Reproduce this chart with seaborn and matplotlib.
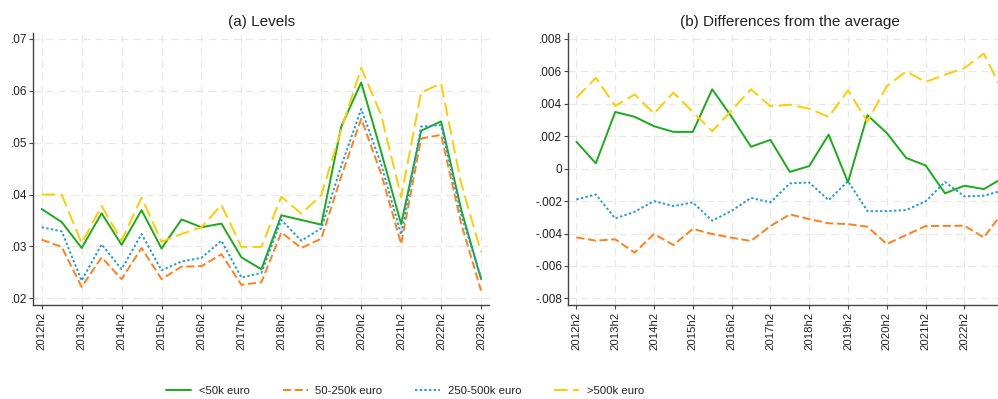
import numpy as np
import pandas as pd
import matplotlib
matplotlib.use("Agg")
import matplotlib.pyplot as plt
from matplotlib.ticker import FuncFormatter
import seaborn as sns

# Half-year periods, 2012h2 .. 2023h2
periods = [f"{y}h{h}" for y in range(2012, 2024) for h in (1, 2)][1:]

groups = ["<50k euro", "50-250k euro", "250-500k euro", ">500k euro"]

# (a) Levels
lvl_lt50 = [0.0372, 0.0347, 0.0297, 0.0364, 0.0303, 0.0370, 0.0296, 0.0352, 0.0337, 0.0344,
            0.0279, 0.0256, 0.0360, 0.0351, 0.0342, 0.0531, 0.0616, 0.0482, 0.0343, 0.0523,
            0.0541, 0.0372, 0.0237]
lvl_50_250 = [0.0313, 0.0299, 0.0222, 0.0279, 0.0237, 0.0297, 0.0237, 0.0261, 0.0262, 0.0285,
              0.0226, 0.0231, 0.0327, 0.0297, 0.0315, 0.0435, 0.0546, 0.0440, 0.0305, 0.0508,
              0.0515, 0.0345, 0.0215]
lvl_250_500 = [0.0337, 0.0329, 0.0234, 0.0304, 0.0256, 0.0324, 0.0254, 0.0271, 0.0278, 0.0311,
               0.0240, 0.0249, 0.0351, 0.0311, 0.0335, 0.0455, 0.0565, 0.0458, 0.0323, 0.0531,
               0.0534, 0.0362, 0.0240]
lvl_gt500 = [0.0400, 0.0400, 0.0306, 0.0378, 0.0311, 0.0394, 0.0309, 0.0324, 0.0337, 0.0380,
             0.0299, 0.0299, 0.0396, 0.0363, 0.0399, 0.0525, 0.0644, 0.0553, 0.0395, 0.0597,
             0.0614, 0.0422, 0.0289]

# (b) Differences from the average
dif_lt50 = [0.00166, 0.00033, 0.00350, 0.00320, 0.00262, 0.00227, 0.00227, 0.00490, 0.00320,
            0.00135, 0.00178, -0.00020, 0.00016, 0.00210, -0.00084, 0.00330, 0.00220, 0.00066,
            0.00020, -0.00152, -0.00105, -0.00126, -0.00056]
dif_50_250 = [-0.00424, -0.00444, -0.00436, -0.00518, -0.00403, -0.00471, -0.00372, -0.00403,
              -0.00426, -0.00446, -0.00354, -0.00282, -0.00311, -0.00337, -0.00342, -0.00358,
              -0.00465, -0.00409, -0.00354, -0.00353, -0.00352, -0.00424, -0.00265]
dif_250_500 = [-0.00190, -0.00159, -0.00307, -0.00266, -0.00200, -0.00231, -0.00208, -0.00321,
               -0.00260, -0.00180, -0.00208, -0.00091, -0.00085, -0.00194, -0.00077, -0.00262,
               -0.00262, -0.00255, -0.00202, -0.00082, -0.00171, -0.00167, -0.00133]
dif_gt500 = [0.00438, 0.00560, 0.00387, 0.00458, 0.00340, 0.00469, 0.00350, 0.00231, 0.00360,
             0.00490, 0.00385, 0.00395, 0.00370, 0.00320, 0.00483, 0.00290, 0.00510, 0.00600,
             0.00535, 0.00580, 0.00620, 0.00710, 0.00470]


def long_frame(series):
    rows = []
    for g, vals in zip(groups, series):
        for i, v in enumerate(vals):
            rows.append({"t": i, "group": g, "value": v})
    return pd.DataFrame(rows)


df_a = long_frame([lvl_lt50, lvl_50_250, lvl_250_500, lvl_gt500])
df_b = long_frame([dif_lt50, dif_50_250, dif_250_500, dif_gt500])

palette = {"<50k euro": "#1aab1a", "50-250k euro": "#ff801a",
           "250-500k euro": "#1e9ad6", ">500k euro": "#ffcc00"}
dashes = {"<50k euro": "", "50-250k euro": (4.2, 1.8),
          "250-500k euro": (1.2, 1.2), ">500k euro": (7.0, 2.8)}

sns.set_theme(style="white")
plt.rcParams["font.family"] = ["Liberation Sans", "DejaVu Sans"]
plt.rcParams["text.color"] = "#222222"

fig = plt.figure(figsize=(9.98, 3.99), dpi=100)
ax_a = fig.add_axes([0.0334, 0.2348, 0.4566, 0.6833])
ax_b = fig.add_axes([0.5694, 0.2348, 0.4436, 0.6833])

for ax, df in ((ax_a, df_a), (ax_b, df_b)):
    sns.lineplot(data=df, x="t", y="value", hue="group", style="group",
                 hue_order=groups, style_order=groups, palette=palette,
                 dashes=dashes, linewidth=1.4, ax=ax)

ax_a.set_ylim(0.01865, 0.0712)
ax_a.set_yticks([0.02, 0.03, 0.04, 0.05, 0.06, 0.07])
ax_a.yaxis.set_major_formatter(FuncFormatter(lambda v, p: f"{v:.2f}".replace("0.", ".", 1)))
ax_a.set_xticks(range(0, 23, 2))
ax_a.set_xticklabels(periods[0:23:2], rotation=90)

ax_b.set_ylim(-0.00843, 0.00839)
ax_b.set_yticks([-0.008, -0.006, -0.004, -0.002, 0, 0.002, 0.004, 0.006, 0.008])
ax_b.yaxis.set_major_formatter(
    FuncFormatter(lambda v, p: "0" if abs(v) < 1e-12 else f"{v:.3f}".replace("0.", ".", 1)))
ax_b.set_xticks(range(0, 21, 2))
ax_b.set_xticklabels(periods[0:21:2], rotation=90)

ax_a.set_title("(a) Levels", fontsize=11, pad=5)
ax_b.set_title("(b) Differences from the average", fontsize=11, pad=5)

for ax in (ax_a, ax_b):
    ax.set_xlim(-0.42, 22.4)
    ax.set_xlabel("")
    ax.set_ylabel("")
    ax.grid(True, color="#e8e8e8", linestyle=(0, (6, 4)), linewidth=0.9)
    ax.set_axisbelow(True)
    for side in ("top", "right"):
        ax.spines[side].set_visible(False)
    for side in ("left", "bottom"):
        ax.spines[side].set_color("#444444")
        ax.spines[side].set_linewidth(1.0)
    ax.tick_params(axis="both", which="major", direction="out", length=3, width=0.8,
                   color="#444444", labelcolor="#222222", pad=1.5,
                   left=True, bottom=True)
    ax.tick_params(axis="x", labelsize=8.2)
    ax.tick_params(axis="y", labelsize=8.5)
    leg = ax.get_legend()
    if leg is not None:
        leg.remove()

handles, labels = ax_a.get_legend_handles_labels()
fig.legend(handles, labels, loc="center", bbox_to_anchor=(0.406, 0.02), ncol=4,
           frameon=False, fontsize=8.2, handlelength=2.2, handletextpad=0.65,
           columnspacing=2.9)

fig.savefig("out.png", dpi=100)
